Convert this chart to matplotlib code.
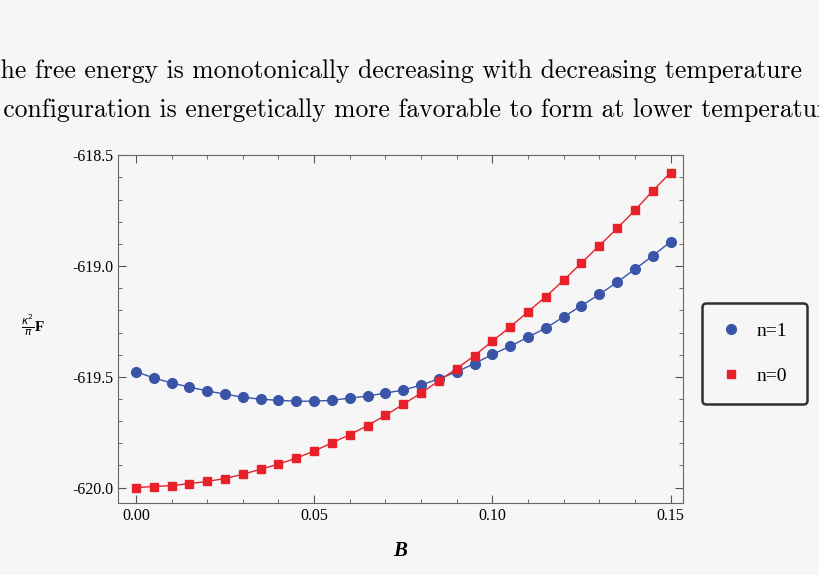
import numpy as np
import matplotlib.pyplot as plt
from matplotlib.ticker import MultipleLocator, AutoMinorLocator, FormatStrFormatter

B = np.arange(31) * 0.005
F_n1 = [-619.477, -619.505, -619.528, -619.546, -619.564, -619.578, -619.592, -619.601,
        -619.606, -619.610, -619.610, -619.606, -619.596, -619.587, -619.573, -619.560,
        -619.537, -619.509, -619.477, -619.440, -619.399, -619.362, -619.321, -619.280,
        -619.229, -619.179, -619.128, -619.073, -619.014, -618.954, -618.890]
F_n0 = [-620.000, -619.995, -619.991, -619.982, -619.972, -619.959, -619.940, -619.917,
        -619.894, -619.867, -619.835, -619.798, -619.761, -619.720, -619.674, -619.624,
        -619.573, -619.518, -619.463, -619.404, -619.339, -619.275, -619.206, -619.138,
        -619.064, -618.986, -618.908, -618.830, -618.748, -618.661, -618.578]

bg = "#f6f6f6"
fig = plt.figure(figsize=(8.2, 5.75), dpi=100, facecolor=bg)
ax = fig.add_axes([0.144, 0.125, 0.689, 0.605], facecolor=bg)

ax.plot(B, F_n1, color="#3a55a8", lw=1, marker="o", ms=7, label="n=1")
ax.plot(B, F_n0, color="#e8202a", lw=1, marker="s", ms=6, label="n=0")

ax.set_xlim(-0.005, 0.1535)
ax.set_ylim(-620.07, -618.5)
ax.xaxis.set_major_locator(MultipleLocator(0.05))
ax.yaxis.set_major_locator(MultipleLocator(0.5))
ax.xaxis.set_minor_locator(AutoMinorLocator(5))
ax.yaxis.set_minor_locator(AutoMinorLocator(5))
ax.xaxis.set_major_formatter(FormatStrFormatter("%.2f"))
ax.yaxis.set_major_formatter(FormatStrFormatter("%.1f"))
ax.tick_params(which="both", direction="in", top=True, right=True, color="#555555")
ax.tick_params(which="major", length=6, labelsize=11.5)
ax.tick_params(which="minor", length=3)
for lab in ax.get_xticklabels() + ax.get_yticklabels():
    lab.set_family("Liberation Serif")
for s in ax.spines.values():
    s.set_color("#666666")

ax.set_xlabel("B", fontsize=15, fontstyle="italic", fontweight="bold",
              family="Liberation Serif", labelpad=12)
fig.text(0.04, 0.435, r"$\frac{\kappa^2}{\pi}$F", fontsize=11, fontweight="bold",
         family="Liberation Serif", ha="center", va="center")

leg = fig.legend(loc="center", bbox_to_anchor=(0.92, 0.385), frameon=True,
                 fancybox=True, edgecolor="black", facecolor=bg, handlelength=1,
                 borderpad=1.0, labelspacing=1.4, prop={"family": "Liberation Serif", "size": 14})
leg.get_frame().set_linewidth(1.8)
for h in leg.legend_handles:
    h.set_linestyle("none")

# text fragment above the figure, cut at both edges as in the source page
fig.text(-0.022, 0.864, "The free energy is monotonically decreasing with decreasing temperature",
         fontsize=18.5, family="cmr10")
fig.text(-0.03, 0.797, "al configuration is energetically more favorable to form at lower temperature",
         fontsize=18.5, family="cmr10")

fig.savefig("out.png", dpi=100, facecolor=bg)
